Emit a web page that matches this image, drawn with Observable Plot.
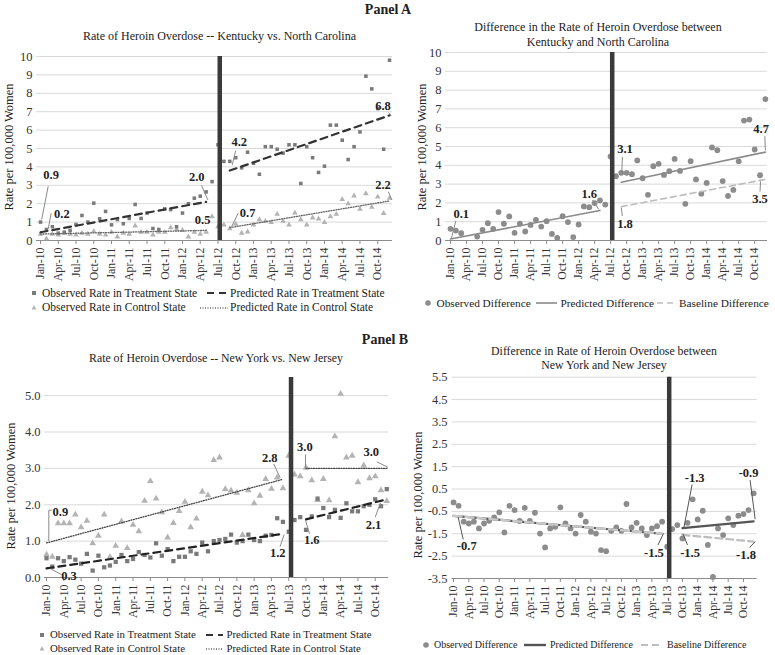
<!DOCTYPE html>
<html><head><meta charset="utf-8">
<script src="https://cdn.jsdelivr.net/npm/d3@7"></script>
<script src="https://cdn.jsdelivr.net/npm/@observablehq/plot@0.6"></script>
<style>
body{margin:0;background:#fff;font-family:"Liberation Serif","Times New Roman",serif;}
#root{position:relative;width:775px;height:655px;overflow:hidden;background:#fff;}
.abs{position:absolute;white-space:nowrap;color:#222;font-family:"Liberation Serif","Times New Roman",serif;}
.ttl{font-size:12px;transform:translateX(-50%);text-align:center;}
.ylab{font-size:12.5px;transform:translate(-50%,-50%) rotate(-90deg);}
.plotbox{position:absolute;}
.plotbox svg{overflow:visible;}
</style></head><body><div id="root"></div>
<script>
// ---------- shared axis labels ----------
const tickLabels = ["Jan-10","Apr-10","Jul-10","Oct-10","Jan-11","Apr-11","Jul-11","Oct-11","Jan-12","Apr-12",
  "Jul-12","Oct-12","Jan-13","Apr-13","Jul-13","Oct-13","Jan-14","Apr-14","Jul-14","Oct-14"];
const tickIdx = tickLabels.map((_, k) => k * 3);

// ---------- Panel A : Kentucky (treatment) vs North Carolina (control) ----------
const kyTreatment = [1.0,0.6,0.75,0.4,0.45,0.55,0.87,1.36,1.0,2.03,1.18,1.58,0.85,1.14,0.91,1.2,1.96,1.2,1.49,0.65,
  0.6,1.72,1.68,0.75,1.49,2.0,2.3,2.41,2.64,3.2,5.2,
  4.3,4.3,4.5,3.95,4.8,4.2,3.6,5.1,5.1,4.96,4.75,5.2,5.2,3.1,5.1,4.5,3.7,4.04,6.27,6.27,5.45,4.4,5.1,5.9,8.93,8.24,7.17,4.96,9.8];
const ncControl = [0.35,0.1,0.35,0.3,0.4,0.35,0.3,0.4,0.35,0.5,0.35,0.3,0.45,0.2,0.4,0.35,0.8,0.45,0.45,0.3,
  0.45,0.45,0.7,0.6,0.55,0.2,0.45,0.35,0.45,1.3,0.75,
  0.85,0.64,0.89,0.4,0.47,0.85,1.14,1.05,0.98,1.43,1.05,0.85,1.5,1.14,0.85,1.23,1.18,0.98,1.3,1.43,2.23,2.0,2.43,1.7,2.55,1.81,2.37,1.48,2.3];
const kyNcDifference = [0.62,0.53,0.39,null,null,0.21,0.57,0.92,0.62,1.51,0.89,1.28,0.41,0.89,0.48,0.83,1.1,0.74,1.03,0.35,
  0.14,1.29,0.98,0.18,0.85,1.81,1.77,1.99,2.13,1.91,4.47,
  3.42,3.6,3.6,3.53,4.26,3.31,2.43,3.95,4.08,3.49,3.69,4.34,3.7,1.95,4.22,3.25,2.49,3.06,4.95,4.8,3.16,2.37,2.69,4.21,6.38,6.43,4.84,3.47,7.52];
const policyMonthA = 30.3;
const preMonthsA = [0, 28], postMonthsA = [32, 59];
const kyPredPre = [0.45, 2.1], kyPredPost = [3.8, 6.8];
const ncPredPre = [0.35, 0.55], ncPredPost = [0.7, 2.15];
const diffPredPreA = [0.08, 1.6], diffPredPostA = [3.1, 4.7], diffBasePostA = [1.8, 3.25];

// ---------- Panel B : New York (treatment) vs New Jersey (control) ----------
const nyTreatment = [0.53,0.3,0.53,0.45,0.56,0.49,0.38,0.65,0.19,0.6,0.28,0.33,0.43,0.62,0.45,0.51,0.7,0.62,0.55,0.94,
  0.6,0.78,0.45,0.57,0.57,0.72,0.65,0.96,0.72,1.0,1.03,1.06,1.18,0.96,1.0,1.18,1.03,1.0,1.15,1.17,1.63,1.53,1.26,
  1.58,1.66,1.31,1.68,2.17,1.91,1.66,1.86,1.64,2.04,1.82,1.82,1.96,2.0,2.15,1.96,2.43];
const njControl = [0.63,0.57,1.49,1.49,1.49,1.73,1.38,1.56,0.94,1.15,1.73,0.56,0.87,1.54,0.81,1.45,1.27,2.11,2.65,2.17,
  1.79,1.1,1.5,1.83,2.08,1.38,1.62,2.36,2.26,3.23,3.3,2.43,2.39,2.33,1.17,2.4,2.04,2.25,2.71,2.44,2.75,2.45,3.35,
  2.83,2.78,3.02,2.67,2.13,2.71,2.12,3.88,5.05,3.3,3.35,2.62,3.08,2.73,2.78,2.4,2.1];
const nyNjDifference = [-0.1,-0.25,-0.96,-1.04,-0.96,-1.26,-1.04,-0.92,-0.77,-0.54,-1.44,-0.25,-0.44,-0.93,-0.34,-0.93,-0.56,-1.49,-2.11,-1.26,
  -1.19,-0.32,-1.04,-1.26,-1.49,-0.66,-0.96,-1.41,-1.49,-2.23,-2.28,-1.37,-1.22,-1.37,-0.17,-1.22,-1.01,-1.26,-1.56,-1.26,-1.16,-0.96,-2.08,
  -1.29,-1.11,-1.71,-1.01,0.04,-0.86,-0.47,-2.0,-3.43,-1.26,-1.56,-0.81,-1.11,-0.69,-0.62,-0.44,0.31];
const policyMonthB = 42.4;
const preMonthsB = [0, 41], postMonthsB = [45, 59];
const nyPredPre = [0.25, 1.2], nyPredPost = [1.6, 2.15];
const njPredPre = [0.95, 2.7], njPredPost = [3.0, 3.0];
const diffPredPreB = [-0.7, -1.5], diffPredPostB = [-1.25, -0.95];
const diffBasePreB = [-0.7, -1.5], diffBasePostB = [-1.55, -1.85];

// ---------- data labels (value text, placed in data coordinates) ----------
const labelsA1 = [{t:"0.9",x:1.8,y:3.55},{t:"0.2",x:3.6,y:1.45},{t:"2.0",x:26.4,y:3.45},{t:"0.5",x:27.4,y:1.13},
  {t:"4.2",x:33.6,y:5.35},{t:"0.7",x:35.0,y:1.48},{t:"6.8",x:57.9,y:7.3},{t:"2.2",x:57.9,y:3.0}];
const leadersA1 = [{x1:1.3,y1:2.95,x2:0.2,y2:1.15},{x1:1.8,y1:1.48,x2:1.3,y2:0.63},{x1:27.2,y1:3.0,x2:28.3,y2:2.2},
  {x1:33.0,y1:4.9,x2:32.4,y2:4.1},{x1:33.4,y1:1.48,x2:32.3,y2:0.75},{x1:58.8,y1:6.95,x2:59.3,y2:6.8},{x1:58.8,y1:2.65,x2:59.4,y2:2.2}];
const labelsA2 = [{t:"0.1",x:2.0,y:1.42},{t:"1.6",x:26.0,y:2.48},{t:"3.1",x:32.7,y:4.88},{t:"1.8",x:32.7,y:0.9},
  {t:"4.7",x:58.2,y:5.95},{t:"3.5",x:58.0,y:2.22}];
const leadersA2 = [{x1:1.0,y1:1.05,x2:0.15,y2:0.1},{x1:26.6,y1:2.15,x2:27.8,y2:1.65},{x1:32.2,y1:4.45,x2:32.1,y2:3.6},
  {x1:32.2,y1:1.3,x2:32.0,y2:1.75},{x1:58.9,y1:5.55,x2:59.0,y2:4.8},{x1:58.0,y1:2.6,x2:58.1,y2:3.15}];
const labelsB1 = [{t:"0.9",x:2.4,y:1.81},{t:"0.3",x:3.9,y:0.03},{t:"2.8",x:38.7,y:3.28},{t:"1.2",x:40.1,y:0.67},
  {t:"3.0",x:44.8,y:3.58},{t:"3.0",x:56.3,y:3.45},{t:"1.6",x:46.0,y:1.02},{t:"2.1",x:56.7,y:1.45}];
const leadersB1 = [{x1:0.4,y1:1.85,x2:0.4,y2:1.0},{x1:0.4,y1:1.85,x2:0.9,y2:1.85},{x1:2.6,y1:0.08,x2:0.7,y2:0.24},
  {x1:39.4,y1:3.12,x2:40.5,y2:2.75},{x1:40.5,y1:0.85,x2:41.2,y2:1.18},{x1:44.9,y1:3.38,x2:44.9,y2:3.0},
  {x1:57.3,y1:3.18,x2:59.2,y2:3.03},{x1:45.6,y1:1.2,x2:44.9,y2:1.58},{x1:57.0,y1:1.66,x2:57.9,y2:2.05}];
const labelsB2 = [{t:"-0.7",x:2.6,y:-2.05},{t:"-1.5",x:39.4,y:-2.36},{t:"-1.3",x:47.4,y:1.0},{t:"-1.5",x:46.5,y:-2.36},
  {t:"-0.9",x:58.0,y:1.22},{t:"-1.8",x:57.5,y:-2.43}];
const leadersB2 = [{x1:1.9,y1:-1.75,x2:0.9,y2:-0.75},{x1:40.2,y1:-2.0,x2:41.3,y2:-1.48},{x1:46.9,y1:0.7,x2:45.3,y2:-1.22},
  {x1:46.0,y1:-2.0,x2:45.1,y2:-1.5},{x1:58.3,y1:0.9,x2:59.3,y2:-0.85},{x1:58.2,y1:-2.12,x2:59.3,y2:-1.85}];

// ---------- helpers ----------
const root = document.getElementById("root");
const FONT = '"Liberation Serif","Times New Roman",serif';
const series = arr => arr.map((v, i) => ({x: i, y: v})).filter(d => d.y != null);
const seg = (span, vals) => [{x: span[0], y: vals[0]}, {x: span[1], y: vals[1]}];

function makePlot(o) {
  const plot = Plot.plot({
    width: o.width, height: o.height,
    marginLeft: o.ml, marginRight: o.mr, marginTop: o.mt, marginBottom: o.mb,
    style: {fontFamily: FONT, fontSize: "11.5px", color: "#333", background: "transparent", overflow: "visible"},
    x: {type: "linear", domain: o.xdom},
    y: {type: "linear", domain: o.ydom},
    marks: [
      Plot.gridY(o.grid, {stroke: "#d9d9d9", strokeOpacity: 1}),
      Plot.ruleY([o.ydom[0]], {stroke: "#8c8c8c"}),
      Plot.axisY(o.yticks, {tickSize: 0, tickPadding: o.ypad ?? 4, tickFormat: o.yfmt, label: null, fontSize: 12.5, fill: "#333", fontFamily: FONT}),
      Plot.axisX(tickIdx, {anchor: "bottom", tickSize: 4, tickPadding: 3, tickRotate: -90, stroke: "#8c8c8c",
        tickFormat: i => tickLabels[i / 3], label: null, fontSize: 11.8, fill: "#333", fontFamily: FONT}),
      ...o.marks,
      Plot.ruleX([o.policy], {stroke: "#3a3a3a", strokeWidth: 4.5}),
      Plot.link(o.leaders, {x1: "x1", y1: "y1", x2: "x2", y2: "y2", stroke: o.leaderColor || "#8a8a8a", strokeWidth: 1}),
      Plot.text(o.labels, {x: "x", y: "y", text: "t", fontWeight: "bold", fontSize: 12.5, fill: "#222", fontFamily: FONT})
    ]
  });
  const box = document.createElement("div");
  box.className = "plotbox";
  box.style.left = o.left + "px"; box.style.top = o.top + "px";
  box.appendChild(plot);
  root.appendChild(box);
}

function text(html, x, yc, cls, fs, extra) {
  const d = document.createElement("div");
  d.className = "abs " + (cls || "");
  d.style.left = x + "px";
  d.style.fontSize = fs + "px";
  d.style.lineHeight = (fs * 1.28) + "px";
  d.innerHTML = html;
  if (cls === "ylab") d.style.top = yc + "px";
  else d.style.top = (yc - fs * 0.64) + "px";
  if (extra) Object.assign(d.style, extra);
  root.appendChild(d);
}

function sym(kind, sx, yc, w) {
  const s = {
    sq: `<rect x="${w/2-2}" y="3" width="4" height="4" fill="#7a7a7a"/>`,
    tri: `<polygon points="${w/2},2.3 ${w/2+2.4},6.6 ${w/2-2.4},6.6" fill="#b3b3b3"/>`,
    circ: `<circle cx="${w/2}" cy="5" r="2.8" fill="#8c8c8c"/>`,
    dash: `<line x1="0" y1="5" x2="${w}" y2="5" stroke="#333" stroke-width="2.2" stroke-dasharray="7,5"/>`,
    dot: `<line x1="0" y1="5" x2="${w}" y2="5" stroke="#666" stroke-width="1.3" stroke-dasharray="1,1.5"/>`,
    solidLight: `<line x1="0" y1="5" x2="${w}" y2="5" stroke="#8a8a8a" stroke-width="1.6"/>`,
    dashLight: `<line x1="0" y1="5" x2="${w}" y2="5" stroke="#bdbdbd" stroke-width="1.6" stroke-dasharray="6,4"/>`,
    solidDark: `<line x1="0" y1="5" x2="${w}" y2="5" stroke="#555" stroke-width="2.4"/>`,
    dashLightThick: `<line x1="0" y1="5" x2="${w}" y2="5" stroke="#bdbdbd" stroke-width="2.2" stroke-dasharray="7,4"/>`
  }[kind];
  const d = document.createElement("div");
  d.className = "abs";
  d.style.left = sx + "px"; d.style.top = (yc - 5) + "px";
  d.innerHTML = `<svg width="${w}" height="10" style="display:block">${s}</svg>`;
  root.appendChild(d);
}

// ---------- Panel A headings ----------
text("Panel A", 388, 10, "ttl", 14, {fontWeight: "bold"});
text("Rate of Heroin Overdose -- Kentucky vs. North Carolina", 219.5, 36.7, "ttl", 12);
text("Difference in the Rate of Heroin Overdose between<br>Kentucky and North Carolina", 598, 35, "ttl", 12, {lineHeight: "15.4px", top: "19.6px"});
text("Rate per 100,000 Women", 9, 147, "ylab", 12.5);
text("Rate per 100,000 Women", 422, 147, "ylab", 12.5);

// Panel A left plot
makePlot({
  left: 0, top: 50, width: 395, height: 235, ml: 36, mr: 3, mt: 6, mb: 45,
  xdom: [-0.68, 59.5], ydom: [0, 10],
  grid: d3.range(1, 11), yticks: d3.range(0, 11), yfmt: d => String(d),
  policy: policyMonthA, labels: labelsA1, leaders: leadersA1,
  marks: [
    Plot.dot(series(ncControl), {x: "x", y: "y", symbol: "triangle", r: 2.1, fill: "#b3b3b3"}),
    Plot.dot(series(kyTreatment), {x: "x", y: "y", symbol: "square", r: 2.0, fill: "#7a7a7a"}),
    Plot.line(seg(preMonthsA, ncPredPre), {x: "x", y: "y", stroke: "#666", strokeWidth: 1.3, strokeDasharray: "1,1.5"}),
    Plot.line(seg(postMonthsA, ncPredPost), {x: "x", y: "y", stroke: "#666", strokeWidth: 1.3, strokeDasharray: "1,1.5"}),
    Plot.line(seg(preMonthsA, kyPredPre), {x: "x", y: "y", stroke: "#333", strokeWidth: 2.2, strokeDasharray: "7,5"}),
    Plot.line(seg(postMonthsA, kyPredPost), {x: "x", y: "y", stroke: "#333", strokeWidth: 2.2, strokeDasharray: "7,5"})
  ]
});

// Panel A right plot
makePlot({
  left: 390, top: 46, width: 385, height: 239, ml: 55, mr: 8, mt: 6, mb: 45,
  xdom: [-0.94, 59.4], ydom: [0, 10],
  grid: d3.range(1, 11), yticks: d3.range(0, 11), yfmt: d => String(d),
  policy: policyMonthA, labels: labelsA2, leaders: leadersA2,
  marks: [
    Plot.dot(series(kyNcDifference), {x: "x", y: "y", r: 2.9, fill: "#8c8c8c"}),
    Plot.line(seg(preMonthsA, diffPredPreA), {x: "x", y: "y", stroke: "#8a8a8a", strokeWidth: 1.6}),
    Plot.line(seg(postMonthsA, diffPredPostA), {x: "x", y: "y", stroke: "#8a8a8a", strokeWidth: 1.6}),
    Plot.line(seg(postMonthsA, diffBasePostA), {x: "x", y: "y", stroke: "#bdbdbd", strokeWidth: 1.6, strokeDasharray: "6,4"})
  ]
});

// Panel A legends
sym("sq", 30, 293, 8); text("Observed Rate in Treatment State", 42, 293, "", 11.5);
sym("dash", 207, 293, 21); text("Predicted Rate in Treatment State", 230, 293, "", 11.5);
sym("tri", 30, 307.5, 8); text("Observed Rate in Control State", 42, 307.5, "", 11.5);
sym("dot", 200, 307.5, 28); text("Predicted Rate in Control State", 230, 307.5, "", 11.5);
sym("circ", 424, 303, 8); text("Observed Difference", 436.5, 303, "", 11.3);
sym("solidLight", 536, 303, 21); text("Predicted Difference", 560.5, 303, "", 11.3);
sym("dashLight", 657, 303, 19); text("Baseline Difference", 679, 303, "", 11.3);

// ---------- Panel B headings ----------
text("Panel B", 385, 340, "ttl", 14, {fontWeight: "bold"});
text("Rate of Heroin Overdose -- New York vs. New Jersey", 216, 359, "ttl", 11.8);
text("Difference in Rate of Heroin Overdose between<br>New York and New Jersey", 604, 358, "ttl", 11.8, {lineHeight: "14.7px", top: "343.6px"});
text("Rate per 100,000 Women", 11, 486, "ylab", 12.5);
text("Rate per 100,000 Women", 418, 495, "ylab", 12.5);

// Panel B left plot
makePlot({
  left: 0, top: 370, width: 392, height: 255, ml: 44, mr: 4, mt: 7, mb: 48,
  xdom: [-0.35, 59.3], ydom: [0, 5.5],
  grid: [1, 2, 3, 4, 5], yticks: [0, 1, 2, 3, 4, 5], yfmt: d => d.toFixed(1),
  policy: policyMonthB, labels: labelsB1, leaders: leadersB1,
  marks: [
    Plot.dot(series(njControl), {x: "x", y: "y", symbol: "triangle", r: 2.5, fill: "#b3b3b3"}),
    Plot.dot(series(nyTreatment), {x: "x", y: "y", symbol: "square", r: 2.4, fill: "#7a7a7a"}),
    Plot.line(seg(preMonthsB, njPredPre), {x: "x", y: "y", stroke: "#444", strokeWidth: 1.3, strokeDasharray: "1,1.5"}),
    Plot.line(seg(postMonthsB, njPredPost), {x: "x", y: "y", stroke: "#444", strokeWidth: 1.3, strokeDasharray: "1,1.5"}),
    Plot.line(seg(preMonthsB, nyPredPre), {x: "x", y: "y", stroke: "#222", strokeWidth: 2.2, strokeDasharray: "7,5"}),
    Plot.line(seg(postMonthsB, nyPredPost), {x: "x", y: "y", stroke: "#222", strokeWidth: 2.2, strokeDasharray: "7,5"})
  ]
});

// Panel B right plot
makePlot({
  left: 400, top: 370, width: 360, height: 256, ml: 51.5, mr: 3.3, mt: 6.7, mb: 48,
  xdom: [-0.3, 59.7], ydom: [-3.5, 5.5],
  grid: [5.5, 4.5, 3.5, 2.5, 1.5, 0.5, -0.5, -1.5, -2.5],
  yticks: [5.5, 4.5, 3.5, 2.5, 1.5, 0.5, -0.5, -1.5, -2.5, -3.5], yfmt: d => d.toFixed(1), ypad: 4.5,
  policy: policyMonthB, labels: labelsB2, leaders: leadersB2, leaderColor: "#555",
  marks: [
    Plot.dot(series(nyNjDifference), {x: "x", y: "y", r: 2.9, fill: "#8c8c8c"}),
    Plot.line(seg(preMonthsB, diffPredPreB), {x: "x", y: "y", stroke: "#5a5a5a", strokeWidth: 2.2}),
    Plot.line(seg(postMonthsB, diffPredPostB), {x: "x", y: "y", stroke: "#555", strokeWidth: 2.2}),
    Plot.line(seg(preMonthsB, diffBasePreB), {x: "x", y: "y", stroke: "#c8c8c8", strokeWidth: 2.4, strokeDasharray: "8,4"}),
    Plot.line(seg(postMonthsB, diffBasePostB), {x: "x", y: "y", stroke: "#bdbdbd", strokeWidth: 2.2, strokeDasharray: "7,4"})
  ]
});

// Panel B legends
sym("sq", 38, 635, 8); text("Observed Rate in Treatment State", 50, 635, "", 10.8);
sym("dash", 206, 635, 17); text("Predicted Rate in Treatment State", 226.5, 635, "", 10.8);
sym("tri", 38, 648.5, 8); text("Observed Rate in Control State", 50, 648.5, "", 10.8);
sym("dot", 206, 648.5, 17); text("Predicted Rate in Control State", 226.5, 648.5, "", 10.8);
sym("circ", 422, 645, 8); text("Observed Difference", 434, 645, "", 10);
sym("solidDark", 524, 645, 22); text("Predicted Difference", 550, 645, "", 10);
sym("dashLightThick", 641, 645, 22); text("Baseline Difference", 667, 645, "", 10);
</script></body></html>
